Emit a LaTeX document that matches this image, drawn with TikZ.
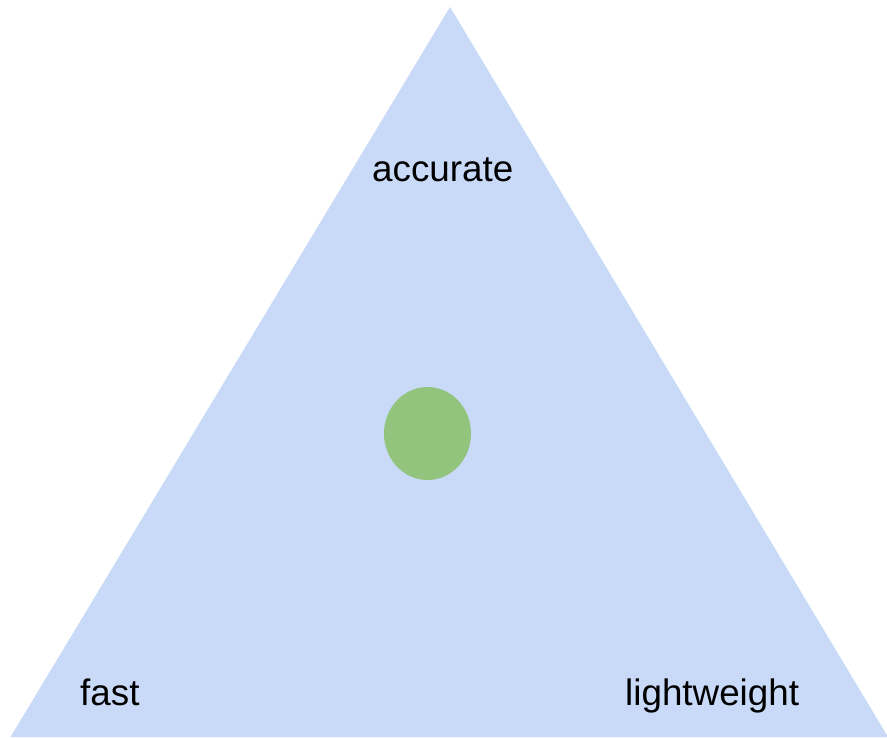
\documentclass[tikz,border=0pt]{standalone}
\usepackage{fontspec}
\usetikzlibrary{shapes.geometric}
\setmainfont{Liberation Sans}
\definecolor{triblue}{HTML}{C9DAF8}
\definecolor{dotgreen}{HTML}{93C47D}
\begin{document}
\begin{tikzpicture}[x=1pt,y=-1pt,
  lbl/.style={font=\fontsize{36.8}{44}\selectfont, inner sep=0pt, anchor=base west}]
\path[use as bounding box] (0,0) rectangle (887,737);
\begin{scope}
\clip (0,0) rectangle (887,737);
\fill[triblue] (450,7) coordinate (apex) -- (10.5,737) coordinate (bl) -- (888,737) coordinate (br) -- cycle;
\end{scope}
\node[fill=dotgreen, ellipse, minimum width=87pt, minimum height=93pt, inner sep=0pt] (dot) at (427.5,433.5) {};
\node[lbl] (acc) at (372,181) {accurate};
\node[lbl] (fast) at (80,705) {fast};
\node[lbl] (light) at (625,705) {lightweight};
\end{tikzpicture}
\end{document}
